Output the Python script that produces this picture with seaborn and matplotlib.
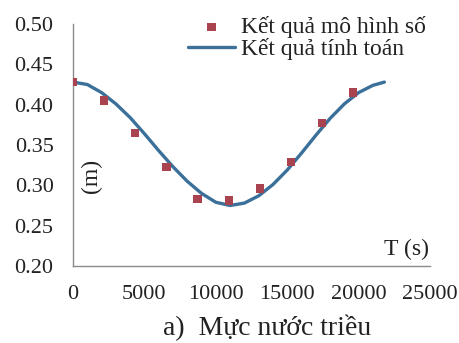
import matplotlib
matplotlib.use("Agg")
import matplotlib.pyplot as plt
import seaborn as sns
import pandas as pd

# Numerical model results (markers)
t_model = [0, 2180, 4360, 6540, 8720, 10900, 13080, 15260, 17440, 19620]
h_model = [0.428, 0.405, 0.365, 0.323, 0.283, 0.281, 0.296, 0.329, 0.377, 0.415]

# Computed results (curve)
t_calc = [0, 1000, 2000, 3000, 4000, 5000, 6000, 7000, 8000, 9000, 10000, 11000,
          12000, 13000, 14000, 15000, 16000, 17000, 18000, 19000, 20000, 21000, 21800]
h_calc = [0.428, 0.425, 0.415, 0.401, 0.384, 0.364, 0.343, 0.323, 0.305, 0.290, 0.279, 0.275,
          0.278, 0.287, 0.301, 0.319, 0.340, 0.362, 0.383, 0.401, 0.415, 0.424, 0.428]

x_ticks = [0, 5000, 10000, 15000, 20000, 25000]
y_ticks = [0.20, 0.25, 0.30, 0.35, 0.40, 0.45, 0.50]

sns.set_style("white")
plt.rcParams["font.family"] = ["Liberation Serif", "DejaVu Serif"]

df_model = pd.DataFrame({"T": t_model, "h": h_model})
df_calc = pd.DataFrame({"T": t_calc, "h": h_calc})

fig = plt.figure(figsize=(4.6, 3.43), dpi=100)
ax = fig.add_axes([0.1587, 0.2245, 0.7763, 0.7055])

line_color = "#3a7099"
marker_color = "#a8434f"
text_color = "#222222"

sns.lineplot(data=df_calc, x="T", y="h", ax=ax, color=line_color, linewidth=2.4,
             label="Kết quả tính toán", zorder=2)
sns.scatterplot(data=df_model, x="T", y="h", ax=ax, color=marker_color, marker="s",
                s=36, edgecolor="none", label="Kết quả mô hình số", zorder=3)

ax.set_xlim(0, 25000)
ax.set_ylim(0.20, 0.50)
ax.set_xticks(x_ticks)
ax.set_yticks(y_ticks)
ax.set_xticklabels([str(v) for v in x_ticks])
ax.set_yticklabels([f"{v:.2f}" for v in y_ticks])
ax.tick_params(axis="both", direction="out", length=5, width=0.8, color="#888888",
               labelsize=16, labelcolor=text_color)
ax.tick_params(axis="y", pad=9)
ax.tick_params(axis="x", pad=9)

for side in ("top", "right"):
    ax.spines[side].set_visible(False)
for side in ("left", "bottom"):
    ax.spines[side].set_color("#8a8a8a")
    ax.spines[side].set_linewidth(1.0)

ax.set_xlabel("")
ax.set_ylabel("")
ax.text(0.933, 0.025, "T (s)", transform=ax.transAxes, ha="center", va="bottom",
        fontsize=17, color=text_color)
ax.text(0.053, 0.372, "(m)", transform=ax.transAxes, ha="center", va="center",
        rotation=90, fontsize=17, color=text_color)

fig.text(0.58, 0.044, "a)  Mực nước triều", ha="center", va="center",
         fontsize=20, color=text_color)

handles, labels = ax.get_legend_handles_labels()
order = [1, 0]
ax.legend([handles[i] for i in order], [labels[i] for i in order],
          loc="upper left", bbox_to_anchor=(188 / 460, 1 - 16 / 343),
          bbox_transform=fig.transFigure, frameon=False, fontsize=17,
          handlelength=2.0, handletextpad=0.25, labelspacing=0.0,
          borderaxespad=0.0, borderpad=0.0, labelcolor=text_color)

fig.savefig("out.png", dpi=100)
